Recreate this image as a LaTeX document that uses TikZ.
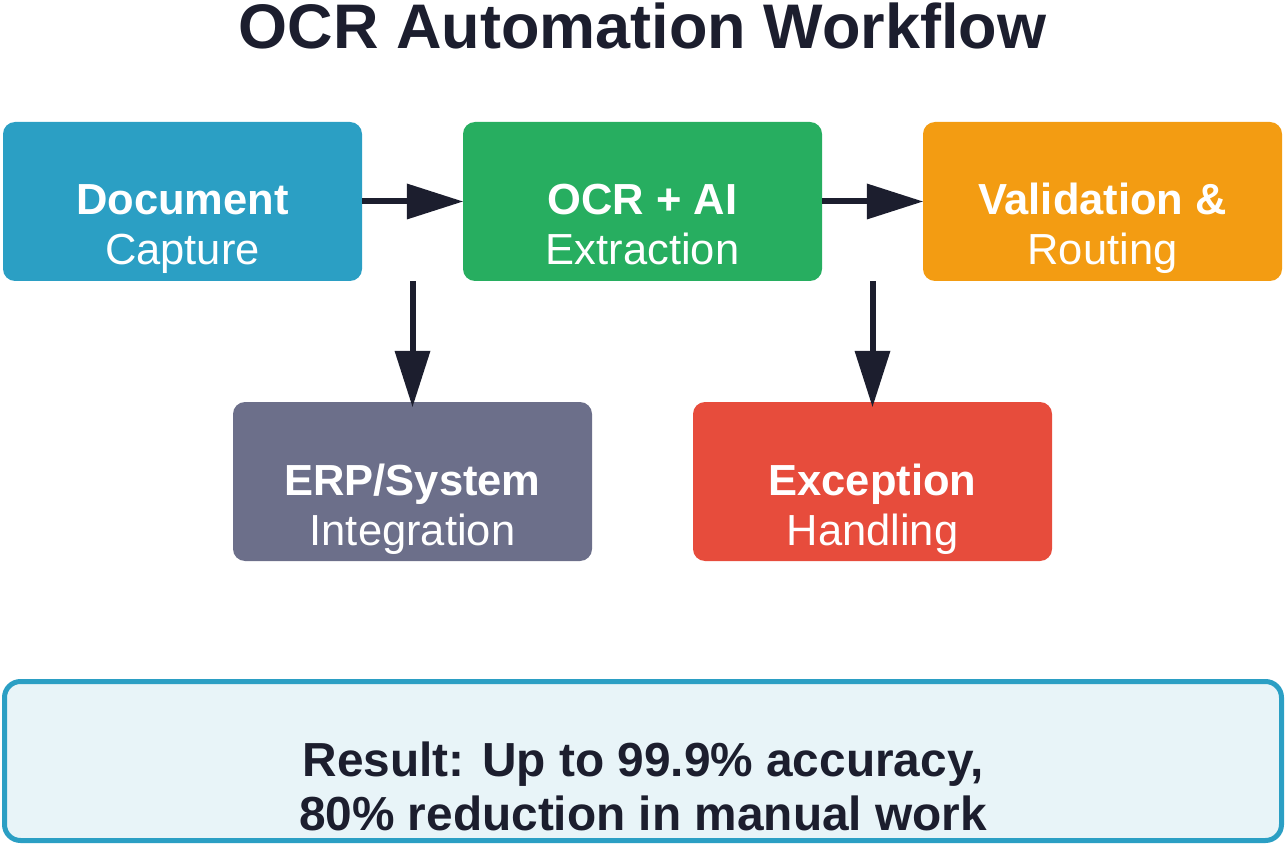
\documentclass[tikz,border=0pt]{standalone}
\usepackage{fontspec}
\setmainfont{Liberation Sans}
\usetikzlibrary{arrows.meta}
\definecolor{cblue}{RGB}{43,159,196}
\definecolor{cgreen}{RGB}{39,174,96}
\definecolor{corange}{RGB}{243,156,18}
\definecolor{cgray}{RGB}{108,111,138}
\definecolor{cred}{RGB}{231,76,60}
\definecolor{cdark}{RGB}{28,30,46}
\definecolor{cpale}{RGB}{232,244,248}
\newcommand\mystage[6]{%
  \node[stagebox, fill=#4] (#1) at (#2,#3) {};
  \node[boldtxt] (#1-a) at ([yshift=-13.5pt]#1.center) {#5};
  \node[regtxt] (#1-b) at ([yshift=-63.5pt]#1.center) {#6};
}
\begin{document}
\begin{tikzpicture}[x=1pt,y=-1pt,
  stagebox/.style={rectangle, rounded corners=12pt, minimum width=359pt, minimum height=159pt, inner sep=0pt, draw=none},
  boldtxt/.style={anchor=base, inner sep=0pt, text=white, font=\fontsize{43.5}{52}\selectfont\bfseries},
  regtxt/.style={anchor=base, inner sep=0pt, text=white, font=\fontsize{43.5}{52}\selectfont},
  flow/.style={draw=cdark, line width=6pt, -{Triangle[length=56pt,width=36pt,line width=0pt]}},
  resultbox/.style={rectangle, rounded corners=16pt, minimum width=1277pt, minimum height=159pt, inner sep=0pt, draw=cblue, line width=5pt, fill=cpale},
  restxt/.style={anchor=base, inner sep=0pt, text=cdark, font=\fontsize{47.8}{56}\selectfont\bfseries},
  titletxt/.style={anchor=base, inner sep=0pt, text=cdark, font=\fontsize{63}{76}\selectfont\bfseries}
]
\useasboundingbox (0,0) rectangle (1286,845);
\node[titletxt] (title) at (642.5,49) {OCR Automation Workflow};

\mystage{doc}{182.5}{201.5}{cblue}{Document}{Capture}
\mystage{ocr}{642.5}{201.5}{cgreen}{OCR + AI}{Extraction}
\mystage{val}{1102.5}{201.5}{corange}{Validation \&}{Routing}
\mystage{erp}{412.5}{481.5}{cgray}{ERP/System}{Integration}
\mystage{exc}{872.5}{481.5}{cred}{Exception}{Handling}

\coordinate (erpend) at ([yshift=-5pt]erp.north);
\coordinate (excend) at ([yshift=-5pt]exc.north);
\draw[flow] (doc.east) -- (ocr.west);
\draw[flow] (ocr.east) -- (val.west);
\draw[flow] (erp.north |- doc.south) -- (erpend);
\draw[flow] (exc.north |- ocr.south) -- (excend);

\node[resultbox] (res) at (643,761) {};
\node[restxt] (res-a) at ([yshift=-15pt]res.center) {Result: Up to 99.9\% accuracy,};
\node[restxt] (res-b) at ([yshift=-69pt]res.center) {80\% reduction in manual work};
\end{tikzpicture}
\end{document}
